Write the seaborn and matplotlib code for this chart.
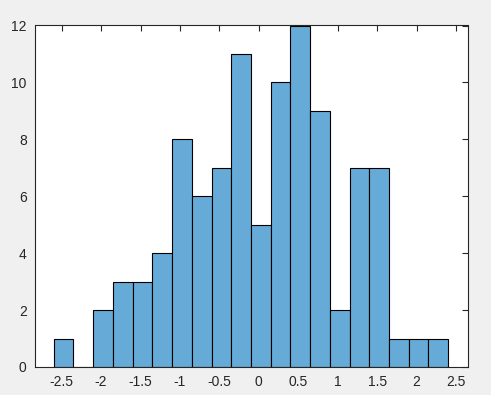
import numpy as np
import pandas as pd
import matplotlib
matplotlib.use("Agg")
import matplotlib.pyplot as plt
import seaborn as sns

# bin layout: 20 bins of width 0.25 from -2.6 to 2.4
bin_edges = np.linspace(-2.6, 2.4, 21)
bin_centers = (bin_edges[:-1] + bin_edges[1:]) / 2
counts = [1, 0, 2, 3, 3, 4, 8, 6, 7, 11, 5, 10, 12, 9, 2, 7, 7, 1, 1, 1]
x_ticks = [-2.5, -2, -1.5, -1, -0.5, 0, 0.5, 1, 1.5, 2, 2.5]
x_labels = ["-2.5", "-2", "-1.5", "-1", "-0.5", "0", "0.5", "1", "1.5", "2", "2.5"]
y_ticks = [0, 2, 4, 6, 8, 10, 12]

sns.set_style("white")
plt.rcParams["font.family"] = ["Liberation Sans", "DejaVu Sans"]

df = pd.DataFrame({"x": bin_centers, "n": counts})

fig = plt.figure(figsize=(4.91, 3.95), dpi=100, facecolor="#f0f0f0")
ax = fig.add_axes([35 / 491, 28 / 395, 432.7 / 491, 341.5 / 395])

sns.histplot(data=df, x="x", weights="n", bins=list(bin_edges), ax=ax,
             color="#66aad7", alpha=1, edgecolor="black", linewidth=0.8)

ax.set_xlim(-2.838, 2.648)
ax.set_ylim(0, 12)
ax.set_xticks(x_ticks)
ax.set_xticklabels(x_labels)
ax.set_yticks(y_ticks)
ax.set_xlabel("")
ax.set_ylabel("")
ax.tick_params(direction="in", length=4, width=0.8, top=True, right=True,
               labelsize=10, labelcolor="#262626", color="#262626", pad=6)
for s in ax.spines.values():
    s.set_color("#262626")
    s.set_linewidth(0.8)

fig.savefig("out.png", dpi=100, facecolor=fig.get_facecolor())
